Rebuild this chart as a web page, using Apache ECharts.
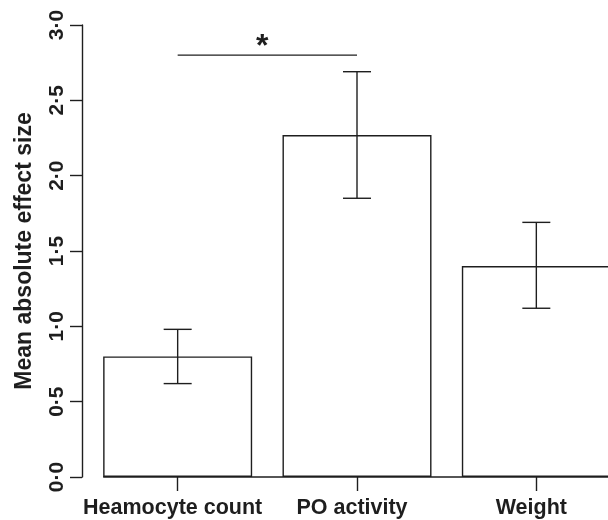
<!DOCTYPE html>
<html>
<head>
<meta charset="utf-8">
<script src="https://cdn.jsdelivr.net/npm/echarts@6/dist/echarts.min.js"></script>
<style>html,body{margin:0;padding:0;background:#fff}#c{width:608px;height:520px}</style>
</head>
<body>
<div id="c"></div>
<script>
const categories = ['Heamocyte count', 'PO activity', 'Weight'];
const means = [0.80, 2.27, 1.40];
const lower = [0.62, 1.85, 1.12];
const upper = [0.98, 2.69, 1.69];
const yTicks = [0, 0.5, 1, 1.5, 2, 2.5, 3];
const sigPair = [0, 1];
const sigLevel = 2.8;
const sigLabel = '*';

const INK = '#1e1e1e';
const FONT = 'Liberation Sans, Arial, sans-serif';
const BAR_W = 149;
const LW = 1.4;

const chart = echarts.init(document.getElementById('c'));
chart.setOption({
  animation: false,
  grid: { left: 88, top: 25, width: 538, bottom: 43, outerBoundsMode: 'none', containLabel: false },
  xAxis: {
    type: 'category',
    data: categories,
    axisLine: { show: false },
    axisTick: { show: true, alignWithLabel: true, length: 14, lineStyle: { color: INK, width: LW } },
    axisLabel: { interval: 0, hideOverlap: false, color: INK, fontFamily: FONT, fontWeight: 'bold', fontSize: 21.5, margin: 20, padding: [0, 10, 0, 0] },
    splitLine: { show: false }
  },
  yAxis: {
    type: 'value',
    min: yTicks[0], max: yTicks[yTicks.length - 1], interval: 0.5,
    offset: 6,
    name: 'Mean absolute effect size',
    nameLocation: 'middle',
    nameGap: 46,
    nameRotate: 90,
    nameTextStyle: { color: INK, fontFamily: FONT, fontWeight: 'bold', fontSize: 23 },
    axisLine: { show: true, lineStyle: { color: INK, width: LW } },
    axisTick: { show: true, length: 12, lineStyle: { color: INK, width: LW } },
    axisLabel: {
      color: INK, fontFamily: FONT, fontWeight: 'bold', fontSize: 21, rotate: 90, margin: 14,
      formatter: v => v.toFixed(1).replace('.', '·')
    },
    splitLine: { show: false }
  },
  series: [
    {
      type: 'bar',
      data: means,
      barWidth: BAR_W,
      itemStyle: { color: '#fff', borderColor: INK, borderWidth: LW },
      silent: true
    },
    {
      type: 'custom',
      data: [[0, 0]],
      silent: true,
      z: 5,
      renderItem: (params, api) => {
        const p0 = api.coord([0, 0]);
        const band = api.size([1, 0])[0];
        const pEnd = api.coord([categories.length - 1, 0]);
        return {
          type: 'line',
          shape: { x1: p0[0] - BAR_W / 2, y1: p0[1], x2: pEnd[0] + band / 2, y2: pEnd[1] },
          style: { stroke: INK, lineWidth: LW }
        };
      }
    },
    {
      type: 'custom',
      data: categories.map((c, i) => [i, lower[i], upper[i]]),
      silent: true,
      z: 6,
      renderItem: (params, api) => {
        const x = api.value(0);
        const lo = api.coord([x, api.value(1)]);
        const hi = api.coord([x, api.value(2)]);
        const cap = 14;
        const st = { stroke: INK, lineWidth: LW };
        return {
          type: 'group',
          children: [
            { type: 'line', shape: { x1: lo[0], y1: lo[1], x2: hi[0], y2: hi[1] }, style: st },
            { type: 'line', shape: { x1: hi[0] - cap, y1: hi[1], x2: hi[0] + cap, y2: hi[1] }, style: st },
            { type: 'line', shape: { x1: lo[0] - cap, y1: lo[1], x2: lo[0] + cap, y2: lo[1] }, style: st }
          ]
        };
      }
    },
    {
      type: 'custom',
      data: [[sigPair[0], sigPair[1], sigLevel]],
      silent: true,
      z: 6,
      renderItem: (params, api) => {
        const a = api.coord([api.value(0), api.value(2)]);
        const b = api.coord([api.value(1), api.value(2)]);
        return {
          type: 'group',
          children: [
            { type: 'line', shape: { x1: a[0], y1: a[1], x2: b[0], y2: b[1] }, style: { stroke: INK, lineWidth: LW } },
            { type: 'text', x: (a[0] + b[0]) / 2 - 5, y: a[1] - 8,
              style: { text: sigLabel, fill: INK, font: 'bold 32px ' + FONT, align: 'center', verticalAlign: 'middle' } }
          ]
        };
      }
    }
  ]
});
</script>
</body>
</html>
